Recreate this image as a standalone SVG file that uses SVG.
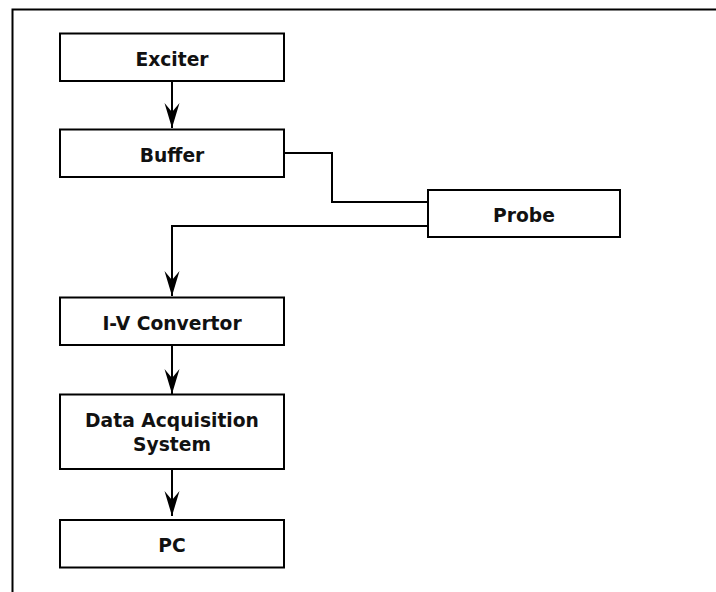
<svg xmlns="http://www.w3.org/2000/svg" width="716" height="592" viewBox="0 0 716 592">
  <style>
    .box { fill: #ffffff; stroke: #000000; stroke-width: 2; }
    .label { font-family: "DejaVu Sans", "Verdana", sans-serif; font-weight: bold; font-size: 18.7px; fill: #111111; text-anchor: middle; }
    .wire { fill: none; stroke: #000000; stroke-width: 2; }
  </style>
  <defs>
    <marker id="head" markerUnits="userSpaceOnUse" markerWidth="20" markerHeight="30" refX="0" refY="0" viewBox="-10 -28 20 30" orient="auto-start-reverse" overflow="visible">
      <path d="M0,0 L-7.5,-25 L0,-16 L7.5,-25 Z" fill="#000000" transform="rotate(-90)"/>
    </marker>
  </defs>

  <rect x="0" y="0" width="716" height="592" fill="#ffffff"/>
  <!-- outer frame -->
  <rect x="12.5" y="9.5" width="720" height="600" fill="none" stroke="#000000" stroke-width="2"/>

  <g id="connectors">
    <path class="wire" d="M172,81 V128" marker-end="url(#head)"/>
    <path class="wire" d="M284,153 H332 V202 H428"/>
    <path class="wire" d="M428,226 H172 V296" marker-end="url(#head)"/>
    <path class="wire" d="M172,345 V394" marker-end="url(#head)"/>
    <path class="wire" d="M172,469 V516" marker-end="url(#head)"/>
  </g>

  <g id="exciter">
    <rect class="box" x="60" y="33.5" width="224" height="47.5"/>
    <text class="label" x="172" y="65.7">Exciter</text>
  </g>
  <g id="buffer">
    <rect class="box" x="60" y="129.5" width="224" height="47.5"/>
    <text class="label" x="172" y="161.7">Buffer</text>
  </g>
  <g id="probe">
    <rect class="box" x="428" y="190" width="192" height="47"/>
    <text class="label" x="524" y="221.7">Probe</text>
  </g>
  <g id="iv-convertor">
    <rect class="box" x="60" y="297.5" width="224" height="47.5"/>
    <text class="label" x="172" y="330">I-V Convertor</text>
  </g>
  <g id="data-acquisition">
    <rect class="box" x="60" y="394.5" width="224" height="74.5"/>
    <text class="label" x="172" y="427">Data Acquisition</text>
    <text class="label" x="172" y="451">System</text>
  </g>
  <g id="pc">
    <rect class="box" x="60" y="520" width="224" height="47.5"/>
    <text class="label" x="172" y="552">PC</text>
  </g>
</svg>
